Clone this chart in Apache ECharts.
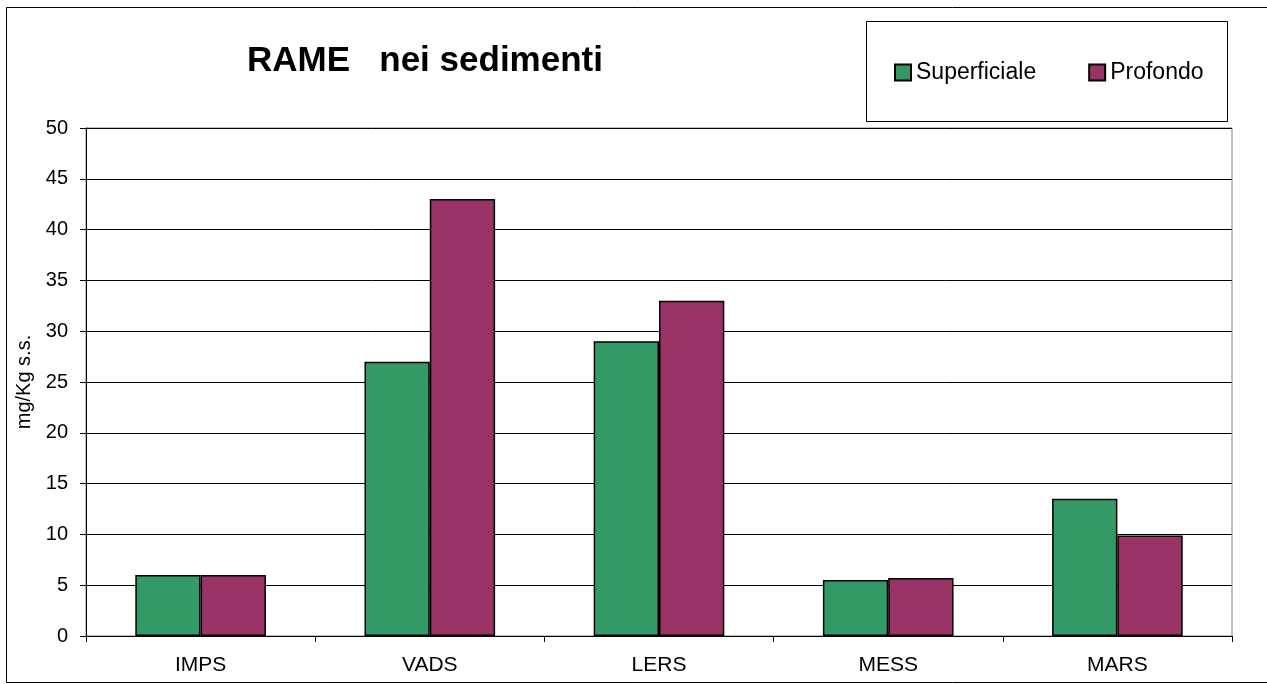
<!DOCTYPE html>
<html>
<head>
<meta charset="utf-8">
<script src="https://cdn.jsdelivr.net/npm/echarts@6/dist/echarts.min.js"></script>
<style>
html,body{margin:0;padding:0;background:#fff;}
#chart{width:1267px;height:684px;}
</style>
</head>
<body>
<div id="chart"></div>
<script>
const categories = ['IMPS', 'VADS', 'LERS', 'MESS', 'MARS'];
const superficiale = [6, 27, 29, 5.5, 13.5];
const profondo = [6, 43, 33, 5.7, 9.9];
const seriesNames = ['Superficiale', 'Profondo'];
const yTicks = { min: 0, max: 50, interval: 5 };

const FONT = '"Liberation Sans", Arial, sans-serif';
const chart = echarts.init(document.getElementById('chart'), null, { renderer: 'canvas' });
chart.setOption({
  animation: false,
  backgroundColor: '#fff',
  textStyle: { fontFamily: FONT },
  title: {
    text: 'RAME   nei sedimenti',
    left: 420, top: 39, textAlign: 'center',
    textStyle: { fontFamily: FONT, fontSize: 35, fontWeight: 'bold', color: '#000' }
  },
  graphic: [
    { type: 'rect', shape: { x: 6.5, y: 7.5, width: 1270, height: 675 },
      style: { fill: 'none', stroke: '#000', lineWidth: 1 }, silent: true, z: -1 },
    { type: 'rect', shape: { x: 866.5, y: 21.5, width: 361, height: 100 },
      style: { fill: '#fff', stroke: '#000', lineWidth: 1 }, silent: true, z: 0 }
  ],
  legend: {
    data: seriesNames,
    left: 894, top: 61, padding: 0,
    itemWidth: 16, itemHeight: 16, itemGap: 52,
    icon: 'rect',
    textStyle: { fontFamily: FONT, fontSize: 23, color: '#000' },
    z: 5
  },
  grid: {
    left: 86, right: 35, top: 128, bottom: 48,
    show: true, borderColor: '#808080', borderWidth: 1, backgroundColor: '#fff'
  },
  xAxis: {
    type: 'category',
    data: categories,
    axisLine: { lineStyle: { color: '#000', width: 1 } },
    axisTick: { show: true, inside: false, length: 6, lineStyle: { color: '#000' } },
    axisLabel: { fontFamily: FONT, fontSize: 21, color: '#000', margin: 19 }
  },
  yAxis: {
    type: 'value',
    min: yTicks.min, max: yTicks.max, interval: yTicks.interval,
    name: 'mg/Kg s.s.',
    nameLocation: 'middle', nameGap: 46, nameRotate: 90,
    nameTextStyle: { fontFamily: FONT, fontSize: 20, color: '#000' },
    axisLine: { show: true, lineStyle: { color: '#000', width: 1 } },
    axisTick: { show: true, inside: false, length: 6, lineStyle: { color: '#000' } },
    axisLabel: { fontFamily: FONT, fontSize: 20, color: '#000', margin: 18 },
    splitLine: { show: true, lineStyle: { color: '#000', width: 1 } }
  },
  series: [
    { name: seriesNames[0], type: 'bar', data: superficiale,
      barGap: '0%', barCategoryGap: '43%',
      itemStyle: { color: '#339966', borderColor: '#000', borderWidth: 1.5 } },
    { name: seriesNames[1], type: 'bar', data: profondo,
      barGap: '0%', barCategoryGap: '43%',
      itemStyle: { color: '#993366', borderColor: '#000', borderWidth: 1.5 } }
  ]
});
</script>
</body>
</html>
